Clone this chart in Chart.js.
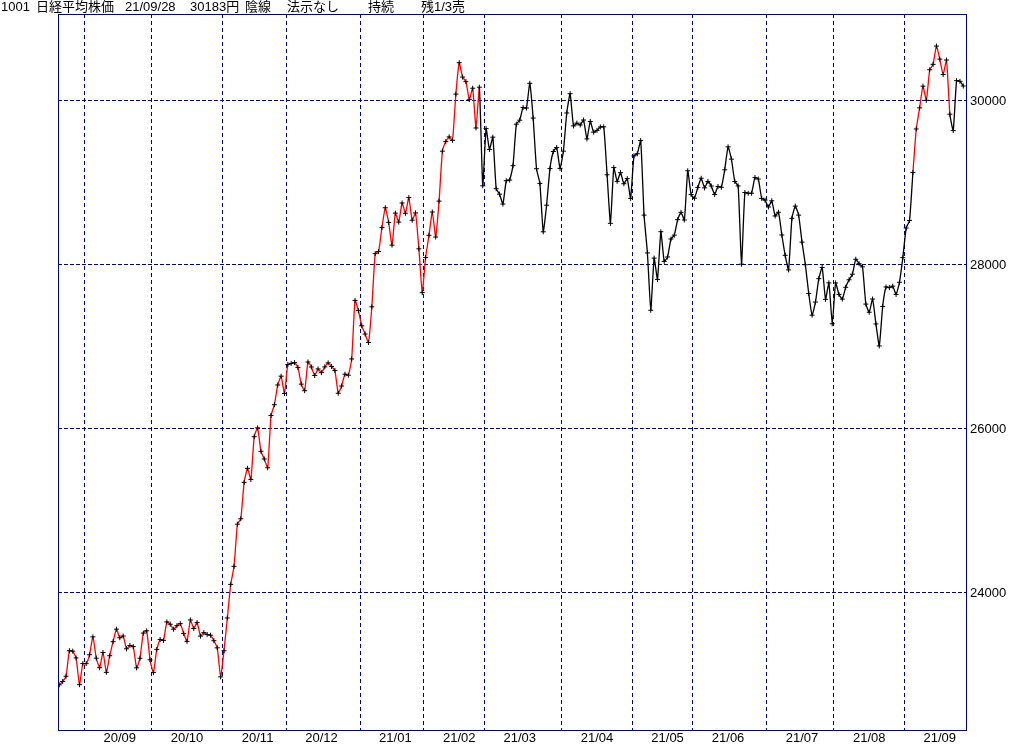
<!DOCTYPE html>
<html>
<head>
<meta charset="utf-8">
<script src="https://cdn.jsdelivr.net/npm/chart.js@4.4.1/dist/chart.umd.min.js"></script>
<style>
  html, body { margin: 0; padding: 0; background: #fff; }
</style>
</head>
<body>
<canvas id="chart" width="1024" height="745"></canvas>
<script>
// daily closes (yen), one array per month, 2020/08/20 .. 2021/09/28
const close2008 = [22880, 22920, 22985, 23296, 23290, 23208, 22882, 23139];
const close2009 = [23138, 23247, 23465, 23205, 23089, 23274, 23032, 23235, 23406, 23559, 23454, 23475, 23319, 23360, 23346, 23087, 23204, 23511, 23539, 23185];
const close2010 = [23029, 23312, 23433, 23422, 23647, 23619, 23558, 23601, 23626, 23507, 23410, 23671, 23567, 23639, 23474, 23516, 23494, 23485, 23418, 23331, 22977];
const close2011 = [23295, 23695, 24105, 24325, 24839, 24905, 25349, 25520, 25385, 25906, 26014, 25728, 25634, 25527, 26165, 26296, 26537, 26644, 26433];
const close2012 = [26787, 26800, 26809, 26751, 26547, 26467, 26817, 26756, 26652, 26732, 26687, 26757, 26806, 26763, 26714, 26436, 26524, 26668, 26656, 26854, 27568, 27444];
const close2101 = [27258, 27158, 27055, 27490, 28139, 28164, 28456, 28698, 28519, 28242, 28633, 28523, 28756, 28631, 28822, 28546, 28635, 28197, 27663];
const close2102 = [28091, 28362, 28646, 28341, 28779, 29388, 29505, 29562, 29520, 30084, 30467, 30292, 30236, 30017, 30156, 29671, 30168, 28966];
const close2103 = [29663, 29408, 29559, 28930, 28864, 28743, 29028, 29036, 29211, 29717, 29766, 29921, 29914, 30216, 29792, 29174, 28995, 28405, 28729, 29176, 29384, 29432, 29178];
const close2104 = [29388, 29854, 30089, 29696, 29730, 29708, 29768, 29538, 29751, 29620, 29642, 29683, 29685, 29100, 28508, 29188, 29020, 29126, 28991, 29053, 28812];
const close2105 = [29331, 29357, 29518, 28608, 28147, 27448, 28084, 27824, 28406, 28044, 28098, 28317, 28364, 28553, 28642, 28549, 29149, 28860];
const close2106 = [28814, 28946, 29058, 28941, 29019, 28963, 28860, 28958, 28948, 29161, 29441, 29291, 29018, 28964, 28010, 28884, 28874, 28875, 29066, 29048, 28812, 28791];
const close2107 = [28707, 28783, 28598, 28643, 28366, 28118, 27940, 28569, 28718, 28608, 28279, 28003, 27652, 27388, 27548, 27833, 27970, 27581, 27782, 27283];
const close2108 = [27781, 27641, 27584, 27728, 27820, 27888, 28070, 28015, 27977, 27523, 27424, 27585, 27281, 27013, 27494, 27732, 27724, 27742, 27641, 27789, 28089];
const close2109 = [28451, 28543, 29128, 29659, 29916, 30181, 30008, 30381, 30447, 30670, 30511, 30323, 30500, 29839, 29639, 30248, 30240, 30183];

const months = [close2008, close2009, close2010, close2011, close2012, close2101, close2102,
                close2103, close2104, close2105, close2106, close2107, close2108, close2109];
const monthLabels = ['', '20/09', '20/10', '20/11', '20/12', '21/01', '21/02',
                     '21/03', '21/04', '21/05', '21/06', '21/07', '21/08', '21/09'];
const priceTicks = [24000, 26000, 28000, 30000];
// runs of days drawn red (first day index, last day index)
const redRuns = [[0, 125], [254, 265]];
const titleParts = ['1001', '日経平均株価', '21/09/28', '30183円', '陰線', '法示なし', '持続', '残1/3売'];

const NAVY = '#000080';
const FONT = '"Liberation Sans Narrow", "Liberation Sans", "Noto Sans CJK JP", sans-serif';

const closes = [].concat(...months);
const points = closes.map((v, i) => ({x: i, y: v}));

// first index of each month
const monthStart = [];
let n = 0;
months.forEach(m => { monthStart.push(n); n += m.length; });
const boundaries = monthStart.slice(1).map(s => s - 0.5);
const labelPos = monthStart.map((s, i) => ({value: s + 10, label: monthLabels[i]}))
                           .filter(t => t.label);

function isRed(a, b) {
    return redRuns.some(r => a >= r[0] && b <= r[1]);
}

const frameAndTitle = {
    id: 'frameAndTitle',
    afterDraw(chart) {
        const ctx = chart.ctx;
        const a = chart.chartArea;
        ctx.save();
        ctx.strokeStyle = NAVY;
        ctx.lineWidth = 1;
        ctx.strokeRect(a.left + 0.5, a.top + 0.5, a.right - a.left, a.bottom - a.top);
        ctx.fillStyle = '#000';
        ctx.font = '13px ' + FONT;
        ctx.textBaseline = 'middle';
        const xs = [1, 36, 125, 190, 245, 287, 368, 421];
        titleParts.forEach((t, i) => ctx.fillText(t, xs[i], 7));
        ctx.restore();
    }
};

new Chart(document.getElementById('chart'), {
    type: 'line',
    data: {
        datasets: [{
            data: points,
            borderWidth: 1.3,
            tension: 0.15,
            segment: {
                borderColor: c => isRed(c.p0DataIndex, c.p1DataIndex) ? '#ff0000' : '#000000'
            },
            pointStyle: 'cross',
            pointRadius: 2.5,
            pointHoverRadius: 2.5,
            pointBorderWidth: 1,
            pointBorderColor: '#000',
            pointBackgroundColor: '#000'
        }]
    },
    options: {
        responsive: false,
        animation: false,
        events: [],
        layout: { padding: { top: 14, left: 58, right: 0, bottom: 0 } },
        plugins: { legend: { display: false }, tooltip: { enabled: false }, title: { display: false } },
        scales: {
            x: {
                type: 'linear',
                position: 'bottom',
                min: -0.39,
                max: 269.8,
                grid: { display: false, drawTicks: false },
                border: { display: false },
                afterBuildTicks: s => { s.ticks = labelPos.map(t => ({value: t.value})); },
                afterFit: s => { s.height = 15; },
                ticks: {
                    autoSkip: false,
                    maxRotation: 0,
                    padding: 1,
                    color: '#000',
                    font: { family: FONT, size: 13 },
                    callback: v => (labelPos.find(t => t.value === v) || {}).label
                }
            },
            xg: {
                type: 'linear',
                position: 'top',
                min: -0.39,
                max: 269.8,
                grid: { color: NAVY, lineWidth: 1, drawTicks: false },
                border: { display: false, dash: [4, 3] },
                ticks: { display: false },
                afterBuildTicks: s => { s.ticks = boundaries.map(v => ({value: v})); },
                afterFit: s => { s.height = 0; }
            },
            y: {
                position: 'right',
                min: 22329,
                max: 31061,
                grid: { color: NAVY, lineWidth: 1, drawTicks: false },
                border: { display: false, dash: [4, 2] },
                afterBuildTicks: s => { s.ticks = priceTicks.map(v => ({value: v})); },
                afterFit: s => { s.width = 58; },
                ticks: {
                    padding: 4,
                    color: '#000',
                    font: { family: FONT, size: 13 },
                    callback: v => String(v)
                }
            }
        }
    },
    plugins: [frameAndTitle]
});
</script>
</body>
</html>
